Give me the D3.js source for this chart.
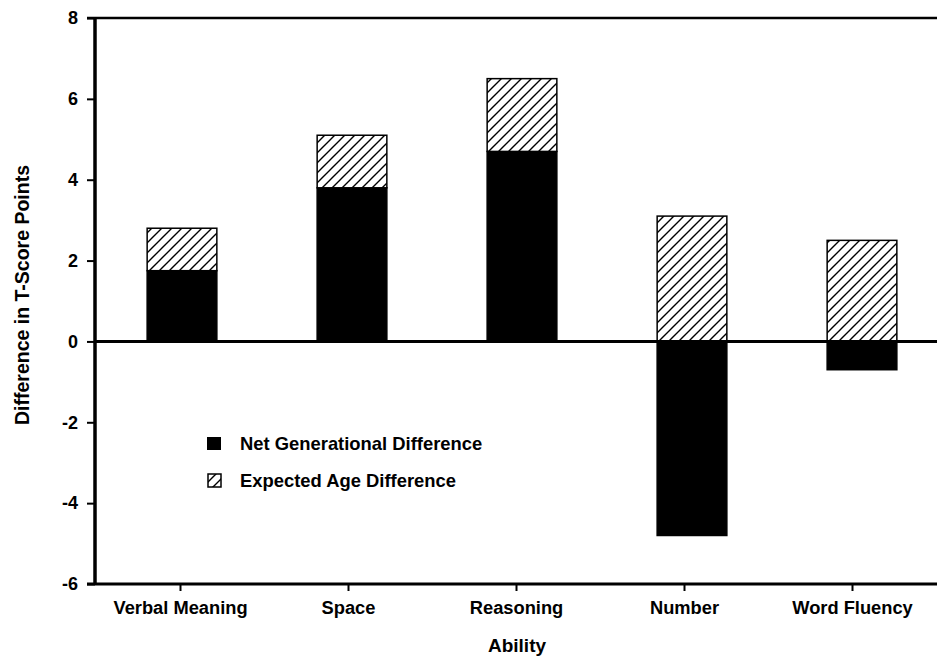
<!DOCTYPE html>
<html><head><meta charset="utf-8">
<script src="https://cdn.jsdelivr.net/npm/d3@7"></script>
<style>body{margin:0;background:#fff}svg{display:block}text{font-family:"Liberation Sans",Arial,sans-serif;font-weight:bold;fill:#000}</style>
</head><body>
<script>
const categories = ["Verbal Meaning","Space","Reasoning","Number","Word Fluency"];
const netGenerational = [1.75, 3.8, 4.7, -4.8, -0.7];
const expectedAge = [1.05, 1.3, 1.8, 3.1, 2.5];
const yTicks = [-6,-4,-2,0,2,4,6,8];
const seriesNames = ["Net Generational Difference","Expected Age Difference"];

const W=937,H=656;
const svg=d3.select("body").append("svg").attr("width",W).attr("height",H);
const defs=svg.append("defs");
const pat=defs.append("pattern").attr("id","hatch").attr("patternUnits","userSpaceOnUse")
  .attr("width",10).attr("height",10);
pat.append("rect").attr("width",10).attr("height",10).attr("fill","#fff");
pat.append("path").attr("d","M-1,11 L11,-1 M-6,6 L6,-6 M4,16 L16,4").attr("stroke","#000").attr("stroke-width",1.4);

const y=d3.scaleLinear().domain([-6,8]).range([584,18]);
const xBand=d3.scaleBand().domain(categories).range([97,947]).paddingInner(0.59).paddingOuter(0.295);
const xTick=d3.scalePoint().domain(categories).range([180,852]);

const data=categories.map((c,i)=>({c,net:netGenerational[i],exp:expectedAge[i]}));

// bars
const g=svg.append("g");
data.forEach(d=>{
  const x0=xBand(d.c), bw=xBand.bandwidth();
  g.append("rect").attr("x",x0).attr("width",bw)
    .attr("y",y(Math.max(0,d.net))).attr("height",Math.abs(y(d.net)-y(0)))
    .attr("fill","#000").attr("stroke","#000").attr("stroke-width",1.5);
  const base=Math.max(0,d.net);
  g.append("rect").attr("x",x0).attr("width",bw)
    .attr("y",y(base+d.exp)).attr("height",y(base)-y(base+d.exp))
    .attr("fill","url(#hatch)").attr("stroke","#000").attr("stroke-width",1.5);
});

// frame lines
svg.append("line").attr("x1",87).attr("x2",W).attr("y1",y(8)).attr("y2",y(8)).attr("stroke","#000").attr("stroke-width",2.5);
svg.append("line").attr("x1",95).attr("x2",W).attr("y1",y(0)).attr("y2",y(0)).attr("stroke","#000").attr("stroke-width",3);

// y axis
const ya=svg.append("g").attr("transform","translate(95,0)")
  .call(d3.axisLeft(y).tickValues(yTicks).tickSize(8).tickPadding(9).tickFormat(d=>String(d)));
ya.select(".domain").attr("stroke-width",3.5).attr("d",`M0,${y(8)-1}V${y(-6)+1}`);
ya.selectAll(".tick line").attr("stroke-width",2);
ya.selectAll(".tick text").attr("font-size",18).attr("font-family","Liberation Sans, Arial, sans-serif").attr("font-weight","bold");

// x axis
svg.append("line").attr("x1",87).attr("x2",W).attr("y1",y(-6)).attr("y2",y(-6)).attr("stroke","#000").attr("stroke-width",3);
const xa=svg.append("g").attr("transform",`translate(0,${y(-6)})`)
  .call(d3.axisBottom(xTick).tickSize(7).tickPadding(10));
xa.select(".domain").remove();
xa.selectAll(".tick line").attr("stroke-width",2);
xa.selectAll(".tick text").attr("font-size",18.3).attr("font-family","Liberation Sans, Arial, sans-serif").attr("font-weight","bold");

// titles
svg.append("text").attr("x",517).attr("y",652).attr("text-anchor","middle").attr("font-size",19).text("Ability");
svg.append("text").attr("transform","translate(29,295) rotate(-90)").attr("text-anchor","middle").attr("font-size",19.5).text("Difference in T-Score Points");

// legend
const lg=svg.append("g");
lg.append("rect").attr("x",207).attr("y",437).attr("width",14).attr("height",13).attr("fill","#000");
lg.append("rect").attr("x",208).attr("y",474).attr("width",13).attr("height",13).attr("fill","url(#hatch)").attr("stroke","#000").attr("stroke-width",1.5);
lg.append("text").attr("x",240).attr("y",450).attr("font-size",18.4).text(seriesNames[0]);
lg.append("text").attr("x",240).attr("y",487).attr("font-size",18.4).text(seriesNames[1]);
</script>
</body></html>
